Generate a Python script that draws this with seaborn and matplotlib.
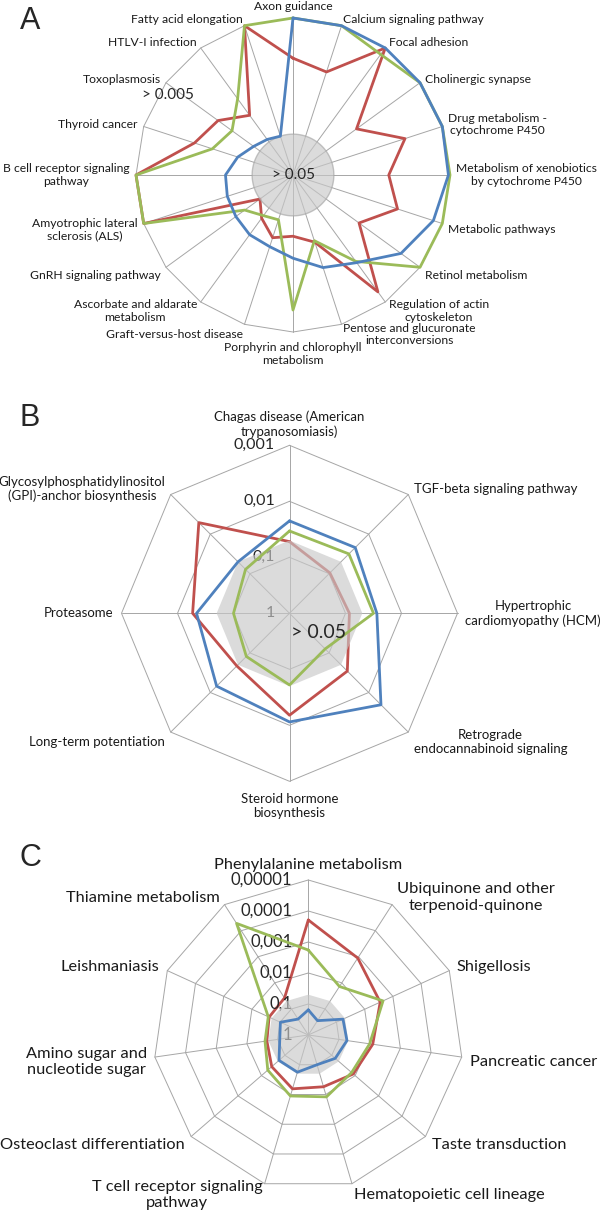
import numpy as np
import pandas as pd
import matplotlib
matplotlib.use('Agg')
import matplotlib.pyplot as plt
import seaborn as sns

sns.set_style('white')
plt.rcParams['font.family'] = ['Lato', 'DejaVu Sans']

BLUE, RED, GREEN = '#4F81BD', '#C0504D', '#9BBB59'
GRID = '#A6A6A6'

# ---- panel A : 20 pathways, score = -log10(p), outer ring 5 ----
A_cats = ['Axon guidance', 'Calcium signaling pathway', 'Focal adhesion',
          'Cholinergic synapse', 'Drug metabolism -\ncytochrome P450',
          'Metabolism of xenobiotics\nby cytochrome P450', 'Metabolic pathways',
          'Retinol metabolism', 'Regulation of actin\ncytoskeleton',
          'Pentose and glucuronate\ninterconversions',
          'Porphyrin and chlorophyll\nmetabolism', 'Graft-versus-host disease',
          'Ascorbate and aldarate\nmetabolism', 'GnRH signaling pathway',
          'Amyotrophic lateral\nsclerosis (ALS)',
          'B cell receptor signaling\npathway', 'Thyroid cancer',
          'Toxoplasmosis', 'HTLV-I infection', 'Fatty acid elongation']
A_blue = [5.0, 5.0, 5.0, 5.0, 5.0, 4.95, 4.7, 4.25, 3.45, 3.1, 2.65, 2.4,
          2.35, 2.25, 2.2, 2.15, 1.85, 1.55, 1.4, 1.3]
A_red = [3.72, 3.45, 5.0, 2.5, 3.75, 3.05, 3.5, 2.6, 4.6, 2.25, 1.95, 2.1,
         1.7, 1.3, 5.0, 5.0, 3.3, 2.95, 2.35, 5.0]
A_green = [5.0, 5.0, 4.75, 5.0, 5.0, 5.0, 5.0, 5.0, 3.4, 2.2, 4.3, 1.5,
           1.6, 1.9, 5.0, 5.0, 2.7, 2.4, 3.0, 5.0]

# ---- panel B : 8 pathways, outer ring p = 0.001 ----
B_cats = ['Chagas disease (American\ntrypanosomiasis)',
          'TGF-beta signaling pathway',
          'Hypertrophic\ncardiomyopathy (HCM)',
          'Retrograde\nendocannabinoid signaling',
          'Steroid hormone\nbiosynthesis', 'Long-term potentiation',
          'Proteasome',
          'Glycosylphosphatidylinositol\n(GPI)-anchor biosynthesis']
B_blue = [1.65, 1.66, 1.56, 2.31, 1.94, 1.84, 1.66, 1.30]
B_red = [1.28, 1.02, 1.07, 1.46, 1.82, 1.33, 1.73, 2.29]
B_green = [1.47, 1.50, 1.50, 0.90, 1.28, 1.09, 1.00, 1.11]
B_rings = ['1', '0,1', '0,01', '0,001']

# ---- panel C : 11 pathways, outer ring p = 0.00001 ----
C_cats = ['Phenylalanine metabolism', 'Ubiquinone and other\nterpenoid-quinone',
          'Shigellosis', 'Pancreatic cancer', 'Taste transduction',
          'Hematopoietic cell lineage', 'T cell receptor signaling\npathway',
          'Osteoclast differentiation', 'Amino sugar and\nnucleotide sugar',
          'Leishmaniasis', 'Thiamine metabolism']
C_blue = [0.81, 0.55, 1.23, 1.26, 1.15, 1.0, 1.25, 1.25, 0.93, 0.99, 0.61]
C_red = [3.71, 2.95, 2.55, 2.10, 1.92, 1.74, 1.81, 1.56, 1.35, 1.39, 1.42]
C_green = [2.74, 1.86, 2.65, 2.0, 1.85, 2.08, 2.05, 1.73, 1.41, 1.42, 4.28]
C_rings = ['1', '0,1', '0,01', '0,001', '0,0001', '0,00001']

THRESH = -np.log10(0.05)

fig = plt.figure(figsize=(6, 12.13), dpi=100)
W, H = 600, 1213


def make_polar(cx, cy, R):
    ax = fig.add_axes([(cx - R) / W, 1 - (cy + R) / H, 2 * R / W, 2 * R / H],
                      projection='polar')
    ax.set_theta_zero_location('N')
    ax.set_theta_direction(-1)
    ax.axis('off')
    return ax


def closed(theta, vals):
    return np.append(theta, theta[0] + 2 * np.pi), np.append(vals, vals[0])


def draw_series(ax, theta, vals, color, z):
    t, v = closed(theta, np.asarray(vals, float))
    df = pd.DataFrame({'theta': t, 'score': v})
    sns.lineplot(data=df, x='theta', y='score', color=color, linewidth=2,
                 sort=False, estimator=None, ax=ax, zorder=z, clip_on=False)


def radar(ax, cats, blue, red, green, rmax, rings, fsize, pad, drop,
          edge=None):
    n = len(cats)
    theta = np.arange(n) * 2 * np.pi / n
    # grid: polygon rings and spokes
    for r in rings:
        t, v = closed(theta, np.full(n, r))
        ax.plot(t, v, color=GRID, lw=0.7, zorder=1, clip_on=False)
    for t in theta:
        ax.plot([t, t], [0, rmax], color=GRID, lw=0.7, zorder=1, clip_on=False)
    draw_series(ax, theta, red, RED, 2)
    # shaded p > 0.05 area
    if edge is None:
        t, v = closed(theta, np.full(n, THRESH))
    else:
        t = np.linspace(0, 2 * np.pi, 200)
        v = np.full(t.size, THRESH)
    ax.fill(t, v, facecolor='#C8C8C8', alpha=0.65, zorder=3,
            edgecolor=edge if edge else 'none', lw=1)
    draw_series(ax, theta, green, GREEN, 4)
    draw_series(ax, theta, blue, BLUE, 5)
    ax.set_ylim(0, rmax)
    for t, name in zip(theta, cats):
        s, c = np.sin(t), np.cos(t)
        if abs(s) < 0.05:
            ha, va = 'center', ('bottom' if c > 0 else 'top')
        else:
            ha, va = ('left' if s > 0 else 'right'), 'center'
        dy = pad * c - (drop if c < -0.05 else 0)
        ax.annotate(name, xy=(t, rmax), xytext=(pad * s, dy),
                    textcoords='offset points', ha=ha, va=va,
                    multialignment='center', fontsize=fsize,
                    annotation_clip=False, color='#1a1a1a')
    return theta


# Panel A
axA = make_polar(293, 175, 157)
radar(axA, A_cats, A_blue, A_red, A_green, 5.0, [5.0], 8.7, 4.5, 3, edge='#A6A6A6')
axA.text(0, 0, '> 0.05', ha='center', va='center', fontsize=11, zorder=10)
axA.text(0.018, 0.755, '> 0.005', transform=axA.transAxes, ha='left',
         va='center', fontsize=11, zorder=10)

# Panel B
axB = make_polar(289.5, 613.3, 168)
radar(axB, B_cats, B_blue, B_red, B_green, 3.0, [1, 2, 3], 9.5, 5.5, 3)
for k, lab in enumerate(B_rings):
    axB.annotate(lab, xy=(0, k), xytext=(-10.5, 0), textcoords='offset points',
                 ha='right', va='center', fontsize=11.5, zorder=2.5,
                 annotation_clip=False)
axB.text(0.504, 0.444, '> 0.05', transform=axB.transAxes, ha='left',
         va='center', fontsize=14, zorder=10)

# Panel C
axC = make_polar(308.3, 1035, 155)
radar(axC, C_cats, C_blue, C_red, C_green, 5.0, [1, 2, 3, 4, 5], 11.8, 6, 2.5)
for k, lab in enumerate(C_rings):
    axC.annotate(lab, xy=(0, k), xytext=(-11.5, 0), textcoords='offset points',
                 ha='right', va='center', fontsize=12, zorder=2.5,
                 annotation_clip=False)

for letter, y in (('A', 21), ('B', 418), ('C', 858)):
    fig.text(30 / W, 1 - y / H, letter, ha='center', va='center', fontsize=22,
             family=['Liberation Sans', 'DejaVu Sans'])

fig.savefig('out.png', dpi=100)
